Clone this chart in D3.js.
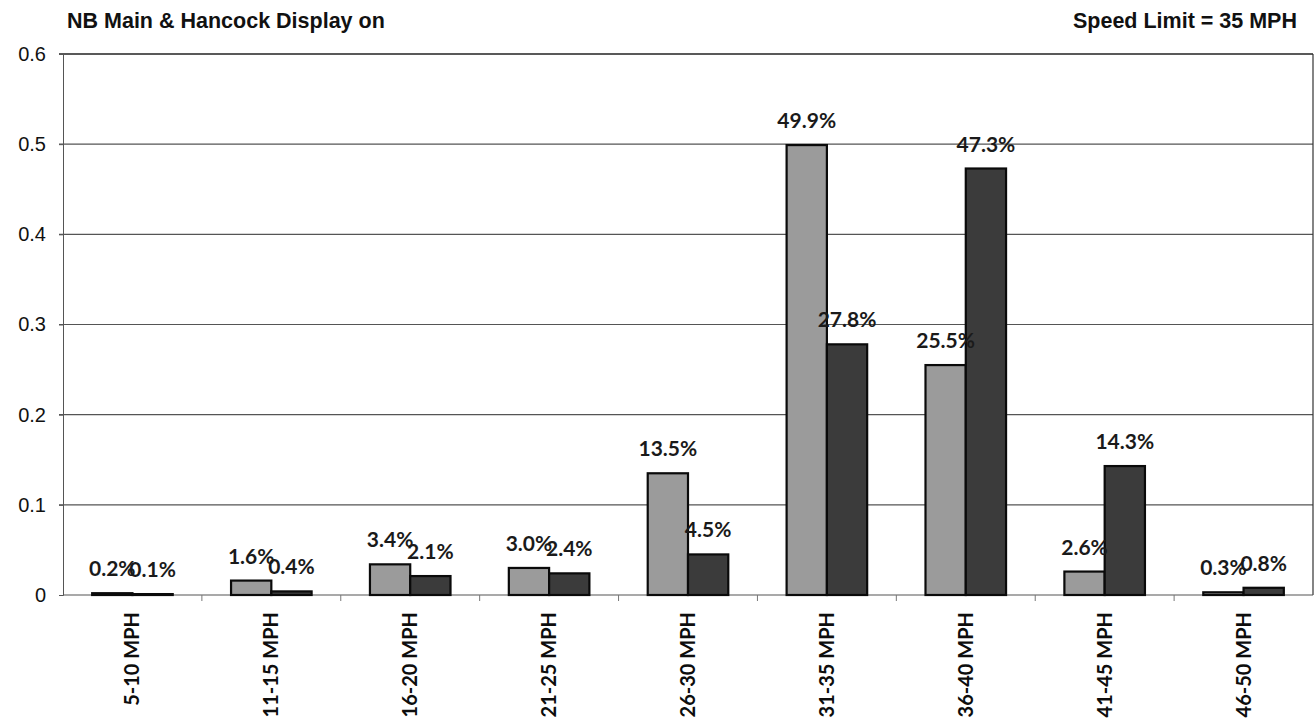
<!DOCTYPE html>
<html>
<head>
<meta charset="utf-8">
<script src="https://cdn.jsdelivr.net/npm/d3@7"></script>
<style>
  body { margin: 0; background: #fff; }
</style>
</head>
<body>
<div id="chart"></div>
<script>
// data
var categories = ["5-10 MPH", "11-15 MPH", "16-20 MPH", "21-25 MPH", "26-30 MPH",
                  "31-35 MPH", "36-40 MPH", "41-45 MPH", "46-50 MPH"];
var seriesA = [0.002, 0.016, 0.034, 0.030, 0.135, 0.499, 0.255, 0.026, 0.003];
var seriesB = [0.001, 0.004, 0.021, 0.024, 0.045, 0.278, 0.473, 0.143, 0.008];
var yTicks = [0, 0.1, 0.2, 0.3, 0.4, 0.5, 0.6];

var W = 1315, H = 721;
var margin = {top: 54, right: 2, bottom: 126, left: 63};
var width = W - margin.left - margin.right;
var height = H - margin.top - margin.bottom;

var svg = d3.select('#chart')
  .append('svg')
  .attr('width', W)
  .attr('height', H);

var g = svg.append('g')
  .attr('transform', `translate(${margin.left}, ${margin.top})`);

// scales
const x = d3.scaleBand()
  .domain(categories)
  .range([0, width])
  .paddingInner(0)
  .paddingOuter(0);

const x1 = d3.scaleBand()
  .domain(['a', 'b'])
  .range([x.bandwidth() * 0.21, x.bandwidth() * 0.79]);

const y = d3.scaleLinear()
  .domain([0, 0.6])
  .range([height, 0]);

// gridlines
g.append('g')
  .selectAll('line')
  .data(yTicks.slice(1))
  .enter()
  .append('line')
  .attr('x1', -4)
  .attr('x2', width)
  .attr('y1', d => y(d))
  .attr('y2', d => y(d))
  .attr('stroke', d => d === 0.6 ? '#222' : '#555')
  .attr('stroke-width', d => d === 0.6 ? 1.6 : 1.1);

// right border
g.append('line')
  .attr('x1', width).attr('x2', width)
  .attr('y1', 0).attr('y2', height)
  .attr('stroke', '#333').attr('stroke-width', 1.2);

// y axis
const yAxis = g.append('g')
  .call(d3.axisLeft(y).tickValues(yTicks).tickFormat(d => d === 0 ? '0' : d3.format('.1f')(d)).tickSize(4).tickPadding(13));
yAxis.select('.domain').attr('stroke', '#555');
yAxis.selectAll('.tick line').attr('stroke', '#555');
yAxis.selectAll('.tick > text')
  .style('font-family', '"Liberation Sans", Arial, sans-serif')
  .style('font-size', '20px')
  .attr('fill', '#111');

// x axis: ticks between categories
const xAxis = g.append('g')
  .attr('transform', `translate(0, ${height})`);
xAxis.append('line')
  .attr('x1', 0).attr('x2', width)
  .attr('stroke', '#555').attr('stroke-width', 1.1);
xAxis.selectAll('.xt')
  .data(categories.slice(1))
  .enter()
  .append('line')
  .attr('class', 'xt')
  .attr('x1', d => x(d)).attr('x2', d => x(d))
  .attr('y1', 0).attr('y2', 6)
  .attr('stroke', '#777');

xAxis.selectAll('.xl')
  .data(categories)
  .enter()
  .append('text')
  .attr('class', 'xl')
  .attr('transform', d => `translate(${x(d) + x.bandwidth() / 2 + 7}, 17) rotate(-90)`)
  .attr('text-anchor', 'end')
  .style('font-family', 'Lato, "Open Sans", sans-serif')
  .style('font-weight', 'bold')
  .style('font-size', '20px')
  .attr('fill', '#0d0d0d')
  .text(d => d);

// bars
var rows = categories.map((c, i) => ({cat: c, a: seriesA[i], b: seriesB[i]}));
var colors = {a: '#9b9b9b', b: '#3b3b3b'};

const groups = g.selectAll('.grp')
  .data(rows)
  .enter()
  .append('g')
  .attr('class', 'grp')
  .attr('transform', d => `translate(${x(d.cat)}, 0)`);

groups.selectAll('rect')
  .data(d => [{k: 'a', v: d.a}, {k: 'b', v: d.b}])
  .enter()
  .append('rect')
  .attr('x', d => x1(d.k))
  .attr('y', d => y(d.v))
  .attr('width', x1.bandwidth())
  .attr('height', d => height - y(d.v))
  .attr('fill', d => colors[d.k])
  .attr('stroke', '#0a0a0a')
  .attr('stroke-width', 2.2);

// value labels
groups.selectAll('.lbl')
  .data(d => [{k: 'a', v: d.a}, {k: 'b', v: d.b}])
  .enter()
  .append('text')
  .attr('class', 'lbl')
  .attr('x', d => x1(d.k) + x1.bandwidth() / 2)
  .attr('y', d => y(d.v) - 17)
  .attr('text-anchor', 'middle')
  .style('font-family', 'Lato, "Open Sans", sans-serif')
  .style('font-weight', 'bold')
  .style('font-size', '21px')
  .attr('fill', '#1a1a1a')
  .text(d => d3.format('.1%')(d.v));

// titles
svg.append('text')
  .attr('x', 67)
  .attr('y', 28)
  .text('NB Main & Hancock Display on')
  .style('font-family', '"Liberation Sans", Arial, sans-serif')
  .style('font-weight', 'bold')
  .style('font-size', '21.5px')
  .attr('fill', '#111');

svg.append('text')
  .attr('x', 1297)
  .attr('y', 28)
  .attr('text-anchor', 'end')
  .text('Speed Limit = 35 MPH')
  .style('font-family', '"Liberation Sans", Arial, sans-serif')
  .style('font-weight', 'bold')
  .style('font-size', '21.5px')
  .attr('fill', '#111');
</script>
</body>
</html>
